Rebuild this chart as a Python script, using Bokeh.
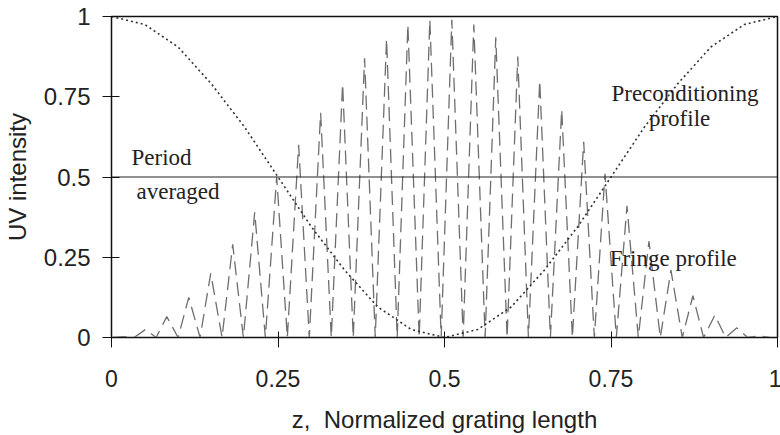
from bokeh.plotting import figure
from bokeh.models import Range1d, Label, FixedTicker
from bokeh.embed import file_html
from bokeh.resources import INLINE

# ---- data ----
x_ticks = [0, 0.25, 0.5, 0.75, 1]
y_ticks = [0, 0.25, 0.5, 0.75, 1]

# fringe profile: peaks and troughs of the interference fringes
fringe_peak_z = [0.018, 0.051, 0.083, 0.116, 0.149, 0.182, 0.215, 0.248, 0.281, 0.314,
                 0.347, 0.380, 0.413, 0.445, 0.478, 0.511, 0.544, 0.577, 0.610, 0.643,
                 0.676, 0.709, 0.741, 0.774, 0.807, 0.840, 0.873, 0.906, 0.939, 0.972]
fringe_peak_h = [0.003, 0.025, 0.065, 0.125, 0.20, 0.29, 0.39, 0.50, 0.60, 0.70,
                 0.79, 0.87, 0.93, 0.975, 0.99, 0.99, 0.975, 0.935, 0.875, 0.80,
                 0.71, 0.61, 0.51, 0.41, 0.30, 0.21, 0.13, 0.07, 0.03, 0.005]
fringe_trough_z = [0.002, 0.034, 0.067, 0.100, 0.133, 0.166, 0.198, 0.231, 0.264, 0.297,
                   0.330, 0.363, 0.396, 0.429, 0.462, 0.495, 0.528, 0.561, 0.594, 0.626,
                   0.659, 0.692, 0.725, 0.758, 0.791, 0.824, 0.857, 0.889, 0.922, 0.955, 0.988]

# preconditioning profile
pre_z = [0.0, 0.05, 0.10, 0.15, 0.20, 0.25, 0.30, 0.35, 0.40, 0.45, 0.50,
         0.55, 0.60, 0.65, 0.70, 0.75, 0.80, 0.85, 0.90, 0.95, 1.0]
pre_v = [1.0, 0.975, 0.905, 0.79, 0.655, 0.50, 0.345, 0.21, 0.095, 0.025, 0.0,
         0.025, 0.095, 0.21, 0.345, 0.50, 0.655, 0.79, 0.905, 0.975, 1.0]

# period averaged level
avg_z = [0.0, 1.0]
avg_v = [0.5, 0.5]

# build the fringe polyline (trough, peak, trough, ...)
fr_x, fr_y = [], []
for i, t in enumerate(fringe_trough_z):
    fr_x.append(t)
    fr_y.append(0.0)
    if i < len(fringe_peak_z):
        fr_x.append(fringe_peak_z[i])
        fr_y.append(fringe_peak_h[i])

p = figure(frame_width=666, frame_height=321, width=780, height=435,
           output_backend="svg", toolbar_location=None,
           x_range=Range1d(0, 1), y_range=Range1d(0, 1),
           min_border_left=110, min_border_right=4, min_border_top=16, min_border_bottom=98)
p.background_fill_color = "white"
p.border_fill_color = "white"
p.outline_line_color = "#111111"
p.outline_line_width = 1.5
p.xgrid.visible = False
p.ygrid.visible = False

p.line(fr_x, fr_y, line_color="#6e6e6e", line_width=1.3, line_dash="14 7")
p.line(pre_z, pre_v, line_color="#333333", line_width=1.6, line_dash="2 3")
p.line(avg_z, avg_v, line_color="#222222", line_width=1.2)

for ax, ticks in ((p.xaxis, x_ticks), (p.yaxis, y_ticks)):
    ax.ticker = FixedTicker(ticks=ticks)
    ax.minor_tick_line_color = None
    ax.axis_line_color = "#111111"
    ax.major_tick_line_color = "#111111"
    ax.major_label_text_font = "Liberation Sans"
    ax.major_label_text_font_size = "23px"
    ax.major_label_text_color = "#222222"
    ax.axis_label_text_font = "Liberation Sans"
    ax.axis_label_text_font_size = "24px"
    ax.axis_label_text_font_style = "normal"
    ax.axis_label_text_color = "#222222"

p.yaxis.major_label_text_font_size = "24px"
p.xaxis.major_label_overrides = {0: "0", 0.25: "0.25", 0.5: "0.5", 0.75: "0.75", 1: "1"}
p.yaxis.major_label_overrides = {0: "0", 0.25: "0.25", 0.5: "0.5", 0.75: "0.75", 1: "1"}
p.xaxis.major_tick_in = 6
p.xaxis.major_tick_out = 10
p.yaxis.major_tick_in = 8
p.yaxis.major_tick_out = 9
p.xaxis.major_label_standoff = 22
p.yaxis.major_label_standoff = 12
p.xaxis.axis_label = "z,\u00a0\u00a0Normalized grating length"
p.yaxis.axis_label = "UV intensity"
p.xaxis.axis_label_standoff = 16
p.yaxis.axis_label_standoff = 10

serif = dict(text_font="Liberation Serif", text_font_size="23px", text_color="#222222")
p.add_layout(Label(x=0.030, y=0.562, text="Period", text_baseline="alphabetic", **serif))
p.add_layout(Label(x=0.0375, y=0.455, text="averaged", text_baseline="alphabetic", **serif))
p.add_layout(Label(x=0.861, y=0.760, text="Preconditioning", text_align="center",
                   text_baseline="alphabetic", **serif))
p.add_layout(Label(x=0.853, y=0.682, text="profile", text_align="center",
                   text_baseline="alphabetic", **serif))
p.add_layout(Label(x=0.748, y=0.246, text="Fringe profile", text_baseline="alphabetic", **serif))

open("out.html", "w").write(file_html(p, INLINE))
